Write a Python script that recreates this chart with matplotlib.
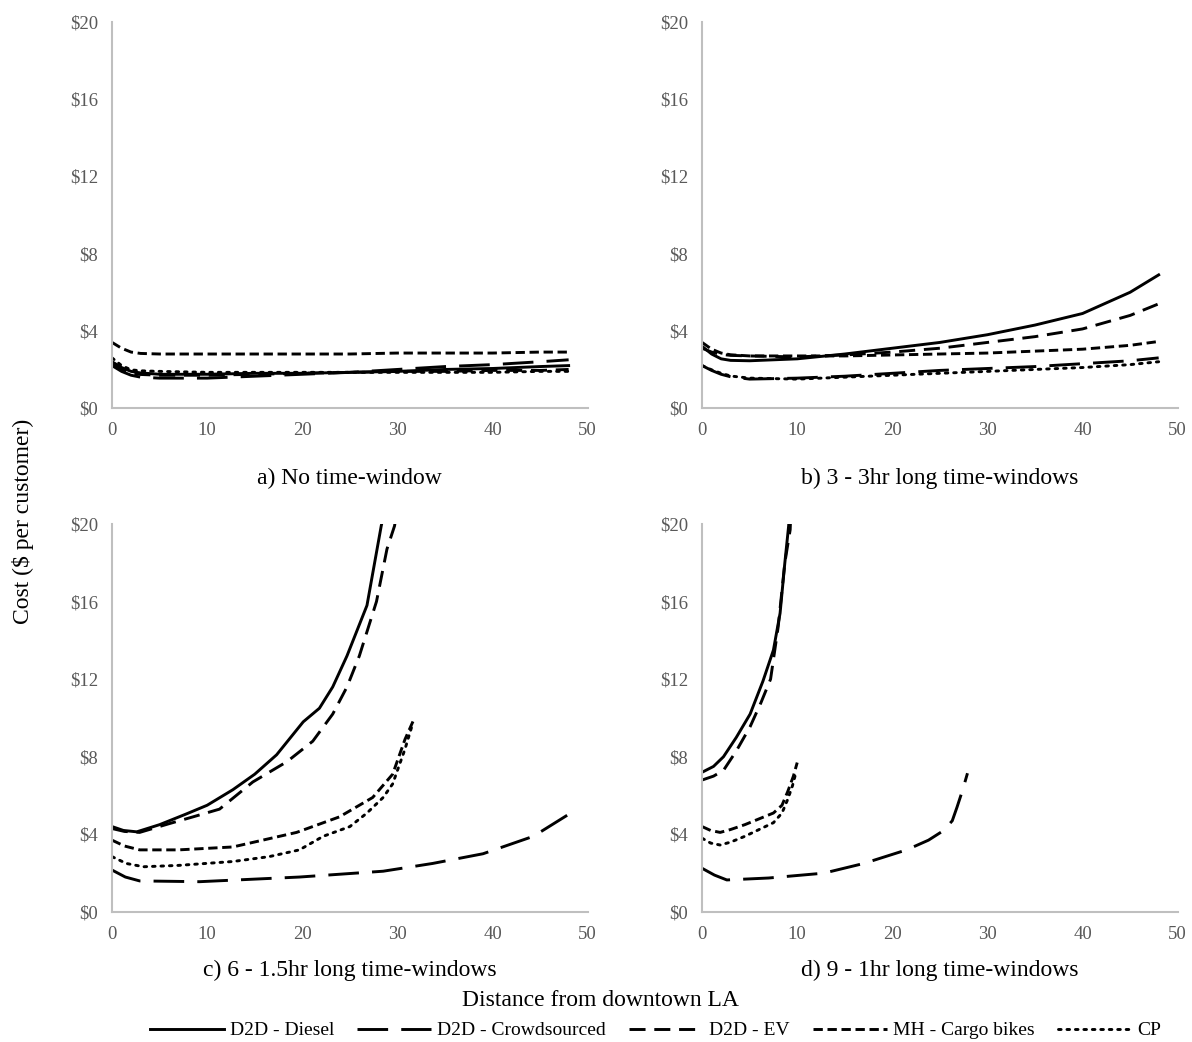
import matplotlib.pyplot as plt
from matplotlib.lines import Line2D

plt.rcParams['font.family'] = ['Liberation Serif', 'DejaVu Serif']

# ---- data (distance in miles, cost in $ per customer) ----
# a) No time-window
A_X = [0, 1, 2, 3, 5, 10, 15, 20, 25, 30, 35, 40, 45, 48]
A_DIESEL = [2.4, 2.1, 1.9, 1.82, 1.75, 1.75, 1.8, 1.8, 1.85, 1.9, 2.0, 2.05, 2.15, 2.2]
A_CROWD = [2.2, 1.9, 1.7, 1.6, 1.55, 1.55, 1.65, 1.75, 1.85, 2.0, 2.15, 2.25, 2.4, 2.5]
A_EV = [2.3, 2.0, 1.8, 1.74, 1.7, 1.7, 1.75, 1.8, 1.85, 1.9, 1.9, 1.95, 1.95, 2.0]
A_MH = [3.4, 3.1, 2.9, 2.83, 2.8, 2.8, 2.8, 2.8, 2.8, 2.85, 2.85, 2.85, 2.9, 2.9]
A_CP = [2.6, 2.2, 1.98, 1.93, 1.9, 1.85, 1.85, 1.85, 1.85, 1.85, 1.85, 1.85, 1.9, 1.9]

# b) 3 - 3hr long time-windows
B_X = [0, 1, 2, 3, 5, 10, 15, 20, 25, 30, 35, 40, 45, 48]
B_DIESEL = [3.2, 2.8, 2.55, 2.47, 2.45, 2.55, 2.8, 3.1, 3.4, 3.8, 4.3, 4.9, 6.0, 6.9]
B_CROWD = [2.2, 1.95, 1.75, 1.62, 1.5, 1.55, 1.65, 1.8, 1.95, 2.05, 2.15, 2.3, 2.45, 2.6]
B_EV = [3.1, 2.9, 2.78, 2.73, 2.7, 2.65, 2.75, 2.9, 3.1, 3.4, 3.7, 4.1, 4.8, 5.4]
B_MH = [3.4, 3.05, 2.85, 2.76, 2.7, 2.7, 2.7, 2.75, 2.8, 2.85, 2.95, 3.05, 3.25, 3.45]
B_CP = [2.2, 1.98, 1.8, 1.66, 1.55, 1.5, 1.6, 1.7, 1.8, 1.9, 2.0, 2.1, 2.25, 2.4]

# c) 6 - 1.5hr long time-windows
C_DIESEL_X = [0, 1.2, 2.6, 5, 7.8, 10, 12.7, 15, 17.3, 20.1, 21.8, 23.2, 24.7, 26.8, 28.3, 29.0]
C_DIESEL = [4.4, 4.2, 4.13, 4.5, 5.05, 5.5, 6.3, 7.1, 8.1, 9.8, 10.5, 11.6, 13.2, 15.8, 19.9, 21.5]
C_EV_X = [0, 1.3, 2.9, 6, 8.5, 11.3, 14.8, 18.4, 21.1, 23.2, 24.7, 26.0, 27.8, 28.9, 29.7, 30.2]
C_EV = [4.3, 4.15, 4.1, 4.55, 4.9, 5.3, 6.7, 7.75, 8.8, 10.2, 11.6, 13.2, 16.0, 18.7, 19.9, 21.5]
C_MH_X = [0, 1.3, 2.9, 7, 12.7, 19.4, 23.9, 27.4, 29.5, 30.8, 31.8]
C_MH = [3.7, 3.4, 3.2, 3.2, 3.35, 4.1, 4.9, 5.9, 7.1, 8.9, 10.0]
C_CP_X = [0, 1.5, 3.3, 7, 12.7, 16.5, 19.7, 22.2, 25.0, 26.8, 28.5, 29.5, 30.8, 31.6]
C_CP = [2.85, 2.5, 2.33, 2.4, 2.6, 2.85, 3.2, 3.9, 4.4, 5.1, 5.9, 6.6, 8.4, 9.7]
C_CROWD_X = [0, 1.4, 2.9, 9.2, 19.7, 28.5, 33.7, 39.0, 44.3, 47.9]
C_CROWD = [2.16, 1.8, 1.6, 1.56, 1.8, 2.1, 2.5, 3.0, 3.9, 5.0]

# d) 9 - 1hr long time-windows
D_DIESEL_X = [0, 1.2, 2.25, 3.6, 5.05, 6.4, 7.5, 8.2, 8.7, 9.1, 9.3]
D_DIESEL = [7.2, 7.5, 8.0, 9.0, 10.2, 11.9, 13.5, 15.4, 18.0, 19.9, 21.5]
D_EV_X = [0, 1.2, 2.25, 3.6, 5.05, 6.2, 7.2, 8.0, 8.7, 9.26, 9.4]
D_EV = [6.8, 7.0, 7.3, 8.3, 9.55, 10.8, 12.0, 14.7, 18.0, 19.7, 21.5]
D_MH_X = [0, 0.9, 1.9, 3, 4.5, 6, 7.5, 8.4, 9.0, 9.6, 10.0]
D_MH = [4.4, 4.2, 4.1, 4.25, 4.5, 4.8, 5.1, 5.5, 6.2, 7.0, 7.7]
D_CP_X = [0, 0.9, 1.9, 3, 4.5, 6, 7.5, 8.4, 9.0, 9.5, 9.8]
D_CP = [3.8, 3.55, 3.45, 3.6, 3.9, 4.25, 4.6, 5.1, 5.8, 6.5, 7.06]
D_CROWD_X = [0, 1.3, 2.6, 7, 12.8, 17, 21.5, 23.8, 25.4, 26.3, 26.8, 27.4, 27.9]
D_CROWD = [2.25, 1.9, 1.65, 1.75, 2.0, 2.5, 3.2, 3.7, 4.2, 4.7, 5.4, 6.3, 7.15]

LABELS = ['D2D - Diesel', 'D2D - Crowdsourced', 'D2D - EV', 'MH - Cargo bikes', 'CP']
TITLES = ['a) No time-window', 'b) 3 - 3hr long time-windows',
          'c) 6 - 1.5hr long time-windows', 'd) 9 - 1hr long time-windows']
Y_TICKS = [0, 4, 8, 12, 16, 20]
X_TICKS = [0, 10, 20, 30, 40, 50]

# line styles per series (same order as LABELS)
STYLES = [
    dict(linestyle='-'),
    dict(linestyle=(0, (10.5, 4.5))),
    dict(linestyle=(0, (5.5, 3))),
    dict(linestyle=(0, (3.2, 1.6))),
    dict(linestyle=(0, (0.9, 2.0)), dash_capstyle='round'),
]

panels = [
    [(A_X, A_DIESEL), (A_X, A_CROWD), (A_X, A_EV), (A_X, A_MH), (A_X, A_CP)],
    [(B_X, B_DIESEL), (B_X, B_CROWD), (B_X, B_EV), (B_X, B_MH), (B_X, B_CP)],
    [(C_DIESEL_X, C_DIESEL), (C_CROWD_X, C_CROWD), (C_EV_X, C_EV), (C_MH_X, C_MH), (C_CP_X, C_CP)],
    [(D_DIESEL_X, D_DIESEL), (D_CROWD_X, D_CROWD), (D_EV_X, D_EV), (D_MH_X, D_MH), (D_CP_X, D_CP)],
]

fig = plt.figure(figsize=(11.92, 10.42), dpi=100)

# axes rectangles [left, bottom, width, height] in figure fractions
rects = [
    [0.094, 0.6084, 0.399, 0.3704],
    [0.589, 0.6084, 0.399, 0.3704],
    [0.094, 0.1248, 0.399, 0.3724],
    [0.589, 0.1248, 0.399, 0.3724],
]
title_y = [0.5413, 0.5413, 0.0691, 0.0691]

LW = 2.1
for rect, series, title, ty in zip(rects, panels, TITLES, title_y):
    ax = fig.add_axes(rect)
    for (xs, ys), style in zip(series, STYLES):
        ax.plot(xs, ys, color='black', lw=LW, solid_joinstyle='round',
                dash_joinstyle='round', **style)
    ax.set_xlim(0, 50)
    ax.set_ylim(0, 20)
    ax.set_xticks(X_TICKS)
    ax.set_yticks(Y_TICKS)
    ax.set_yticklabels([f'\\${v}' for v in Y_TICKS])
    ax.tick_params(length=0, labelsize=13.5, labelcolor='#595959', pad=10)
    for side in ['top', 'right']:
        ax.spines[side].set_visible(False)
    for side in ['left', 'bottom']:
        ax.spines[side].set_color('#bfbfbf')
        ax.spines[side].set_linewidth(1.5)
    fig.text(rect[0] + rect[2] / 2, ty, title, ha='center', va='center', fontsize=17)

fig.text(0.019, 0.50, 'Cost (\\$ per customer)', rotation=90, ha='center', va='center',
         fontsize=17)
fig.text(0.504, 0.040, 'Distance from downtown LA', ha='center', va='center', fontsize=17)

handles = [Line2D([], [], color='black', lw=LW, **s) for s in STYLES]
fig.legend(handles, LABELS, loc='center', bbox_to_anchor=(0.55, 0.011), ncol=5,
           frameon=False, fontsize=14, handlelength=3.8, columnspacing=1.2,
           handletextpad=0.3, borderpad=0)

fig.savefig('out.png', dpi=100)
